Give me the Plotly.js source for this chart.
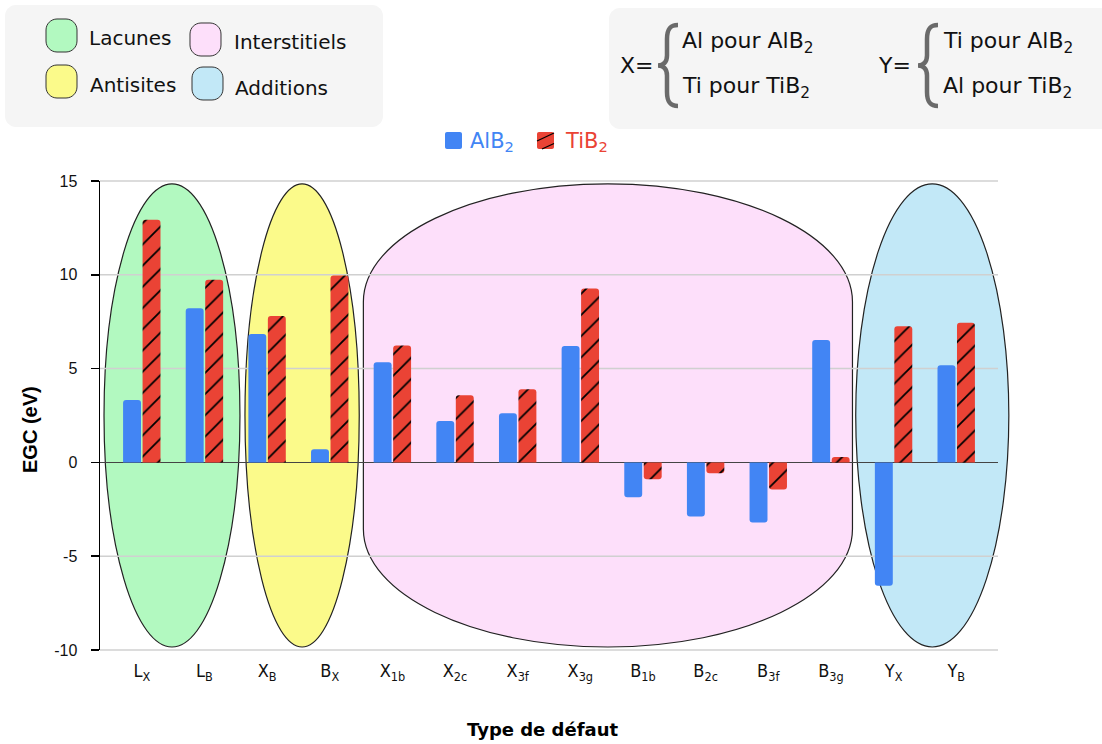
<!DOCTYPE html>
<html><head><meta charset="utf-8">
<script src="https://cdn.plot.ly/plotly-3.0.1.min.js"></script>
<style>html,body{margin:0;padding:0;background:#fff}#chart{width:1102px;height:744px}</style>
</head><body><div id="chart"></div>
<script>
// ---------- data ----------
const categories = ['LX','LB','XB','BX','X1b','X2c','X3f','X3g','B1b','B2c','B3f','B3g','YX','YB'];
const tickLabels = ['L<sub>X</sub>','L<sub>B</sub>','X<sub>B</sub>','B<sub>X</sub>','X<sub>1b</sub>','X<sub>2c</sub>','X<sub>3f</sub>','X<sub>3g</sub>','B<sub>1b</sub>','B<sub>2c</sub>','B<sub>3f</sub>','B<sub>3g</sub>','Y<sub>X</sub>','Y<sub>B</sub>'];
const alb2 = [3.33, 8.22, 6.85, 0.70, 5.34, 2.21, 2.62, 6.21, -1.86, -2.89, -3.21, 6.53, -6.57, 5.18];
const tib2 = [12.93, 9.73, 7.81, 9.96, 6.23, 3.58, 3.90, 9.27, -0.90, -0.58, -1.45, 0.29, 7.26, 7.44];
const seriesNames = ['AlB<sub>2</sub>', 'TiB<sub>2</sub>'];
const groupNames = ['Lacunes', 'Antisites', 'Interstitiels', 'Additions'];
const groupFirst = [0, 2, 4, 12];
const groupLast = [1, 3, 11, 13];
const yTicks = [-10, -5, 0, 5, 10, 15];
const yTickText = ['-10', '-5', '0', '5', '10', '15'];

// ---------- style ----------
const BLUE = '#4285F4', RED = '#EA4335';
const groupStyle = [
  {fill:'#b2f9c0', padL:0.603, padR:0.567, kind:'ellipse'},
  {fill:'#fbfa8a', padL:0.353, padR:0.471, kind:'ellipse'},
  {fill:'#fddffa', padL:0.463, padR:0.344, kind:'stadium'},
  {fill:'#c2e8f7', padL:0.604, padR:0.84, kind:'ellipse'}
];
const W=1102, H=744, ML=100, MR=104, MT=181, MB=94;
const XR = [-0.667, 13.667], YR = [-10, 15];
const pw = W-ML-MR, ph = H-MT-MB;
const px = x => (x-ML)/pw;
const py = y => (H-MB-y)/ph;
const dx = v => (v-XR[0])/(XR[1]-XR[0]);
const dy = v => (v-YR[0])/(YR[1]-YR[0]);
const K = 0.5523;

function rrPath(x0,y0,x1,y1,r){
  const P=(x,y)=>px(x).toFixed(5)+','+py(y).toFixed(5);
  const c=r*(1-K);
  return 'M'+P(x0+r,y0)+' L'+P(x1-r,y0)+' C'+P(x1-c,y0)+' '+P(x1,y0+c)+' '+P(x1,y0+r)+
    ' L'+P(x1,y1-r)+' C'+P(x1,y1-c)+' '+P(x1-c,y1)+' '+P(x1-r,y1)+
    ' L'+P(x0+r,y1)+' C'+P(x0+c,y1)+' '+P(x0,y1-c)+' '+P(x0,y1-r)+
    ' L'+P(x0,y0+r)+' C'+P(x0,y0+c)+' '+P(x0+c,y0)+' '+P(x0+r,y0)+' Z';
}
function bracePath(bx,t,b){
  const P=(x,y)=>px(x).toFixed(5)+','+py(y).toFixed(5);
  const m=(t+b)/2, s=bx+9, e=bx+20;
  return 'M'+P(e,t)+' C'+P(bx+12,t)+' '+P(s,t+4)+' '+P(s,t+14)+' L'+P(s,m-10)+
    ' C'+P(s,m-3)+' '+P(bx+5,m)+' '+P(bx,m)+' C'+P(bx+5,m)+' '+P(s,m+3)+' '+P(s,m+10)+
    ' L'+P(s,b-14)+' C'+P(s,b-4)+' '+P(bx+12,b)+' '+P(e,b);
}

const idx = categories.map((_, i) => i);
const traces = [
  {type:'bar', x:idx, y:alb2, name:seriesNames[0],
   marker:{color:BLUE, line:{width:0}}, hoverinfo:'y'},
  {type:'bar', x:idx, y:tib2, name:seriesNames[1],
   marker:{color:RED, line:{width:0}, pattern:{shape:'/', fgcolor:'#000', fgopacity:1, bgcolor:RED, size:15, solidity:0.12, fillmode:'overlay'}}, hoverinfo:'y'}
];

const shapes = [];
const yTop = 14.85, yBot = -9.84;
groupNames.forEach((g,i)=>{
  const st = groupStyle[i];
  const x0 = groupFirst[i]-st.padL, x1 = groupLast[i]+st.padR;
  if(st.kind==='ellipse'){
    shapes.push({type:'circle', xref:'paper', yref:'paper', x0:dx(x0), x1:dx(x1), y0:dy(yBot), y1:dy(yTop), layer:'below',
      fillcolor:st.fill, line:{color:'#222', width:1.2}});
  } else {
    const rx=(x1-x0)/2, ry=6.29, cx=(x0+x1)/2, c1=yTop-ry, c2=yBot+ry;
    const P=(a,b)=>dx(a).toFixed(5)+','+dy(b).toFixed(5);
    const path='M'+P(x0,c2)+' L'+P(x0,c1)+' C'+P(x0,c1+K*ry)+' '+P(cx-K*rx,yTop)+' '+P(cx,yTop)+
      ' C'+P(cx+K*rx,yTop)+' '+P(x1,c1+K*ry)+' '+P(x1,c1)+' L'+P(x1,c2)+
      ' C'+P(x1,c2-K*ry)+' '+P(cx+K*rx,yBot)+' '+P(cx,yBot)+' C'+P(cx-K*rx,yBot)+' '+P(x0,c2-K*ry)+' '+P(x0,c2)+' Z';
    shapes.push({type:'path', xref:'paper', yref:'paper', path:path, layer:'below', fillcolor:st.fill, line:{color:'#222', width:1.2}});
  }
});
// horizontal grid lines drawn over the group regions (as in the reference)
yTicks.filter(t => t !== 0).forEach(t => {
  shapes.push({type:'line', xref:'paper', yref:'paper', x0:0, x1:1, y0:dy(t), y1:dy(t), layer:'below', line:{color:'#d0d0d0', width:1.5}});
});
// info boxes
shapes.push({type:'path', xref:'paper', yref:'paper', path:rrPath(5,5,383,127,11), fillcolor:'#f5f5f5', line:{width:0}, layer:'above'});
shapes.push({type:'path', xref:'paper', yref:'paper', path:rrPath(609,8,1114,129,11), fillcolor:'#f5f5f5', line:{width:0}, layer:'above'});
// group swatches
const sw = [[46,19],[46,65],[190,23],[192,67]];
sw.forEach((p,i)=>{
  shapes.push({type:'path', xref:'paper', yref:'paper', path:rrPath(p[0],p[1],p[0]+31,p[1]+33,11),
    fillcolor:groupStyle[i].fill, line:{color:'#333', width:1}, layer:'above'});
});
shapes.push({type:'path', xref:'paper', yref:'paper', path:bracePath(658,25,106), line:{color:'#6a6a6a', width:4.5}, layer:'above'});
shapes.push({type:'path', xref:'paper', yref:'paper', path:bracePath(918,25,106), line:{color:'#6a6a6a', width:4.5}, layer:'above'});
// series legend swatches
shapes.push({type:'path', xref:'paper', yref:'paper', path:rrPath(445,132,462,149,2), fillcolor:BLUE, line:{width:0}, layer:'above'});
shapes.push({type:'path', xref:'paper', yref:'paper', path:rrPath(537,132,554,149,2), fillcolor:RED, line:{width:0}, layer:'above'});
shapes.push({type:'line', xref:'paper', yref:'paper', x0:px(537), y0:py(141), x1:px(554), y1:py(133), line:{color:'#000', width:1.3}, layer:'above'});
shapes.push({type:'line', xref:'paper', yref:'paper', x0:px(542), y0:py(149), x1:px(554), y1:py(143.5), line:{color:'#000', width:1.3}, layer:'above'});

const tfL = {family:'DejaVu Sans', size:20, color:'#111'};
const tfR = {family:'DejaVu Sans', size:22, color:'#111'};
const ann = (t,x,y,f)=>({text:t, xref:'paper', yref:'paper', x:px(x), y:py(y), xanchor:'left', yanchor:'middle', showarrow:false, font:f});
const annotations = [
  ann(groupNames[0], 87, 38, tfL), ann(groupNames[1], 88, 85, tfL), ann(groupNames[2], 232, 42, tfL), ann(groupNames[3], 233, 88, tfL),
  ann('X=', 618, 66, tfR), ann('Al pour AlB<sub>2</sub>', 680, 43, tfR), ann('Ti pour TiB<sub>2</sub>', 680, 87, tfR),
  ann('Y=', 876, 66, tfR), ann('Ti pour AlB<sub>2</sub>', 941, 43, tfR), ann('Al pour TiB<sub>2</sub>', 941, 87, tfR),
  ann(seriesNames[0], 468, 142, {family:'DejaVu Sans', size:21, color:BLUE}),
  ann(seriesNames[1], 563, 142, {family:'DejaVu Sans', size:21, color:RED}),
  {text:'<b>EGC (eV)</b>', xref:'paper', yref:'paper', x:px(30), y:py(430), textangle:-90, showarrow:false,
   xanchor:'center', yanchor:'middle', font:{family:'Liberation Sans, Arial', size:20, color:'#000'}},
  {text:'<b>Type de défaut</b>', xref:'paper', yref:'paper', x:px(542), y:py(729), showarrow:false,
   xanchor:'center', yanchor:'middle', font:{family:'DejaVu Sans', size:18, color:'#000'}}
];

const layout = {
  width:W, height:H, margin:{l:ML, r:MR, t:MT, b:MB},
  paper_bgcolor:'#fff', plot_bgcolor:'rgba(0,0,0,0)',
  font:{family:'DejaVu Sans', color:'#111'},
  barmode:'group', bargap:0.378, bargroupgap:0.08, barcornerradius:3,
  showlegend:false,
  xaxis:{type:'linear', range:XR, tickvals:idx, ticktext:tickLabels, showgrid:false, zeroline:false, showline:false, ticks:'',
    ticklabelstandoff:8, tickfont:{family:'DejaVu Sans Condensed, DejaVu Sans', size:18, color:'#111'}, fixedrange:true},
  yaxis:{range:YR, tickvals:yTicks, ticktext:yTickText, showgrid:false,
    zeroline:true, zerolinecolor:'#444', zerolinewidth:1.5, showline:true, linecolor:'#000', linewidth:1.5,
    ticks:'outside', ticklen:8, tickwidth:1.5, tickcolor:'#000', ticklabelstandoff:10,
    tickfont:{family:'Liberation Sans, Arial', size:16, color:'#111'}, fixedrange:true},
  shapes:shapes, annotations:annotations
};
Plotly.newPlot('chart', traces, layout, {displayModeBar:false, staticPlot:true});
</script></body></html>
